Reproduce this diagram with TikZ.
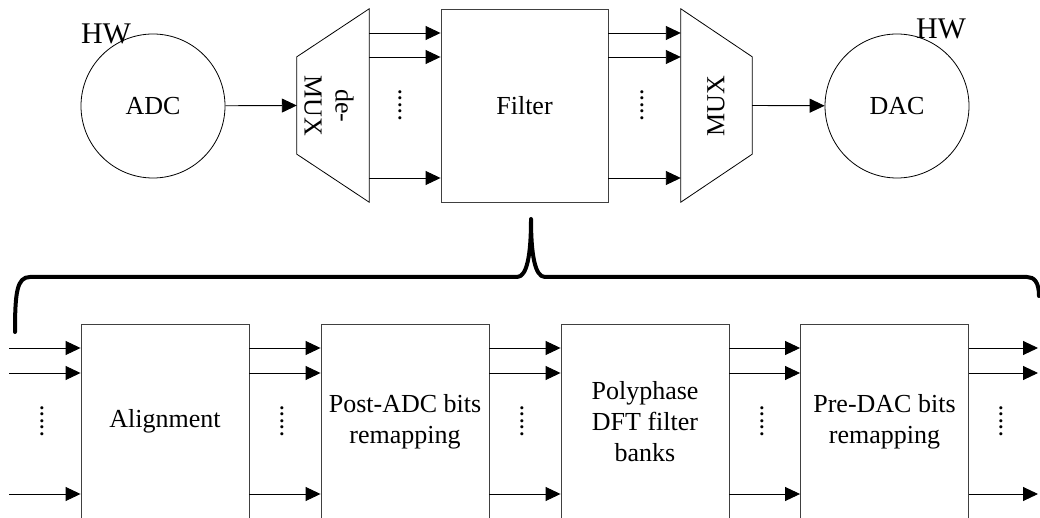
\documentclass[tikz,border=0pt]{standalone}
\usepackage{fontspec}
\setmainfont{Liberation Serif}
\usetikzlibrary{arrows.meta,calc}
\begin{document}
\begin{tikzpicture}[x=1pt,y=-1pt,
  lab/.style={font=\fontsize{26}{31}\selectfont, align=center},
  blk/.style={draw=black!75, line width=0.9pt, minimum width=168pt, minimum height=193pt, inner sep=0pt, lab},
  conv/.style={draw, circle, line width=0.8pt, minimum size=144pt, inner sep=0pt, lab},
  frame/.style={minimum height=193pt, inner sep=0pt},
  sig/.style={-{Triangle[length=15pt,width=14pt]}, line width=0.9pt},
  vdots/.style={rotate=90, inner sep=0pt, font=\fontsize{26}{31}\selectfont},
  hw/.style={font=\fontsize{30}{36}\selectfont, inner sep=0pt},
  brace/.style={line width=4pt, line cap=round, line join=round}
]
\useasboundingbox (0,0) rectangle (1040,518);

% ---------- top chain: ADC -> de-MUX -> Filter -> MUX -> DAC ----------
\node[conv] (adc) at (153,106) {ADC};
\node[conv] (dac) at (897,106) {DAC};
\node[hw] (hwl) at (106,34) {HW};
\node[hw] (hwr) at (941,29) {HW};

\node[frame, minimum width=72pt] (demux) at (333,105.5) {};
\draw[line width=0.8pt] (demux.north east) -- (demux.south east)
  -- ($(demux.south west)+(0,-48)$) -- ($(demux.north west)+(0,48)$) -- cycle;
\node[lab, rotate=-90] (demuxlab) at (329,106) {de-\\MUX};

\node[blk, minimum width=167pt] (filter) at (524.5,105.5) {Filter};

\node[frame, minimum width=71pt] (mux) at (716.5,105.5) {};
\draw[line width=0.8pt] (mux.north west) -- (mux.south west)
  -- ($(mux.south east)+(0,-48)$) -- ($(mux.north east)+(0,48)$) -- cycle;
\node[lab, rotate=90] (muxlab) at (716,106) {MUX};

\draw[sig] (adc) -- (demux.west);
\draw[sig] (mux.east) -- (dac);

\coordinate (ya) at (0,33);
\coordinate (yb) at (0,57);
\coordinate (yc) at (0,178);
\foreach \r in {ya,yb,yc} {
  \draw[sig] (demux.east |- \r) -- (filter.west |- \r);
  \draw[sig] (filter.east |- \r) -- (mux.west |- \r);
}
\node[vdots] (td1) at (400,105) {.....};
\node[vdots] (td2) at (642,105) {.....};

% ---------- brace opening the filter into its stages ----------
\draw[brace] (15,332) .. controls (15,292) and (17,277) .. (30,277)
  -- (517,277) .. controls (527,277) and (531,255) .. (531,219)
  .. controls (531,255) and (535,277) .. (545,277)
  -- (1027,277) .. controls (1034,277) and (1039,282) .. (1039,296);

% ---------- bottom chain: filter stages ----------
\node[blk, minimum height=195pt] (b1) at (165,421.5) {Alignment};
\node[blk, minimum height=195pt] (b2) at (405,421.5) {Post-ADC bits\\remapping};
\node[blk, minimum height=195pt] (b3) at (645,421.5) {Polyphase\\DFT filter\\banks};
\node[blk, minimum height=195pt] (b4) at (884.5,421.5) {Pre-DAC bits\\remapping};

\coordinate (in) at (9,421);
\coordinate (out) at (1038,421);
\coordinate (pa) at (0,348);
\coordinate (pb) at (0,373);
\coordinate (pc) at (0,494);
\foreach \r in {pa,pb,pc} {
  \draw[sig] (in |- \r) -- (b1.west |- \r);
  \draw[sig] (b1.east |- \r) -- (b2.west |- \r);
  \draw[sig] (b2.east |- \r) -- (b3.west |- \r);
  \draw[sig] (b3.east |- \r) -- (b4.west |- \r);
  \draw[sig] (b4.east |- \r) -- (out |- \r);
}
\node[vdots] (bd1) at (42,421) {.....};
\node[vdots] (bd2) at (282,421) {.....};
\node[vdots] (bd3) at (522,421) {.....};
\node[vdots] (bd4) at (762,421) {.....};
\node[vdots] (bd5) at (1001,421) {.....};
\end{tikzpicture}
\end{document}
